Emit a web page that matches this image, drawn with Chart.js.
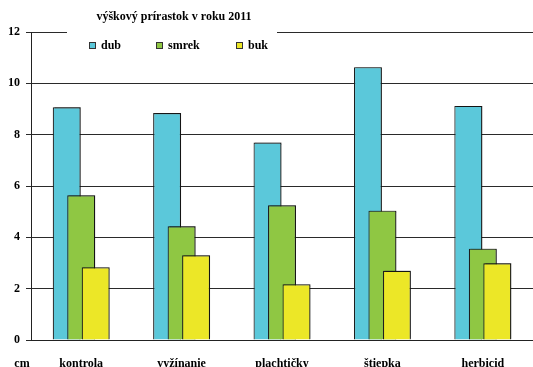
<!DOCTYPE html>
<html>
<head>
<meta charset="utf-8">
<script src="https://cdn.jsdelivr.net/npm/chart.js@4.4.1/dist/chart.umd.min.js"></script>
<style>
  html, body { margin: 0; padding: 0; background: #fff; overflow: hidden; }
  #wrap { width: 533px; height: 380px; }
</style>
</head>
<body>
<div id="wrap"><canvas id="growth" width="533" height="380"></canvas></div>
<script>
// height growth per treatment, cm
const treatments = ["kontrola", "vyžínanie", "plachtičky", "štiepka", "herbicid"];
const dub = [9.07, 8.84, 7.69, 10.63, 9.12];
const smrek = [5.64, 4.43, 5.25, 5.04, 3.56];
const buk = [2.83, 3.30, 2.17, 2.70, 2.99];
const yTicks = [0, 2, 4, 6, 8, 10, 12];

const titleText = "výškový prírastok v roku 2011";
const unitText = "cm";
const FONT = "'Liberation Serif', 'Times New Roman', serif";

// bars are drawn left to right so each one overlaps the previous,
// with a faint drop shadow
const drawInOrder = {
  id: "drawInOrder",
  beforeDatasetsDraw(chart) {
    const ctx = chart.ctx;
    ctx.save();
    ctx.shadowColor = "rgba(0,0,0,0.35)";
    ctx.shadowOffsetX = 1.5;
    ctx.shadowOffsetY = -1;
    ctx.shadowBlur = 1;
    chart.getSortedVisibleDatasetMetas().forEach((m) => m.controller.draw());
    ctx.restore();
    return false;
  },
};

// title + legend block sitting on top of the grid, and the unit label
const header = {
  id: "header",
  afterDraw(chart) {
    const ctx = chart.ctx;
    ctx.save();
    ctx.fillStyle = "#fff";
    ctx.fillRect(67, 0, 210, 58);

    ctx.fillStyle = "#000";
    ctx.font = "bold 12px " + FONT;
    ctx.textAlign = "center";
    ctx.textBaseline = "middle";
    ctx.fillText(titleText, 174, 17);

    const xs = [89, 156, 236];
    ctx.textAlign = "left";
    chart.data.datasets.forEach((ds, i) => {
      ctx.fillStyle = ds.backgroundColor;
      ctx.fillRect(xs[i], 42, 6, 6);
      ctx.strokeStyle = "#333";
      ctx.lineWidth = 1;
      ctx.strokeRect(xs[i] + 0.5, 42.5, 6, 6);
      ctx.fillStyle = "#000";
      ctx.fillText(ds.label, xs[i] + 12, 46);
    });

    ctx.textAlign = "center";
    ctx.textBaseline = "top";
    ctx.fillText(unitText, 22, 358);
    ctx.restore();
  },
};

const barStyle = { borderColor: "#1e1e1e", borderWidth: 1.2, categoryPercentage: 0.433, barPercentage: 1.93 };

new Chart(document.getElementById("growth"), {
  type: "bar",
  data: {
    labels: treatments,
    datasets: [
      { label: "dub", data: dub, backgroundColor: "#5bc8da", ...barStyle },
      { label: "smrek", data: smrek, backgroundColor: "#8fc743", ...barStyle },
      { label: "buk", data: buk, backgroundColor: "#ece727", ...barStyle },
    ],
  },
  options: {
    responsive: false,
    animation: false,
    layout: { padding: { top: 32, left: 0, right: 0, bottom: 0 } },
    plugins: { legend: { display: false }, title: { display: false }, tooltip: { enabled: false } },
    scales: {
      x: {
        grid: { display: false, drawTicks: false },
        border: { display: true, color: "#222" },
        ticks: { color: "#000", padding: 17, maxRotation: 0, font: { family: FONT, size: 12, weight: "bold" } },
        afterFit(scale) { scale.height = 40; },
      },
      y: {
        min: 0,
        max: 12,
        afterBuildTicks(scale) { scale.ticks = yTicks.map((v) => ({ value: v })); },
        grid: { color: "#2a2a2a", lineWidth: 1, drawTicks: true, tickLength: 5 },
        border: { display: true, color: "#222" },
        ticks: { color: "#000", padding: 6, font: { family: FONT, size: 12, weight: "bold" } },
        afterFit(scale) { scale.width = 31; },
      },
    },
  },
  plugins: [drawInOrder, header],
});
</script>
</body>
</html>
